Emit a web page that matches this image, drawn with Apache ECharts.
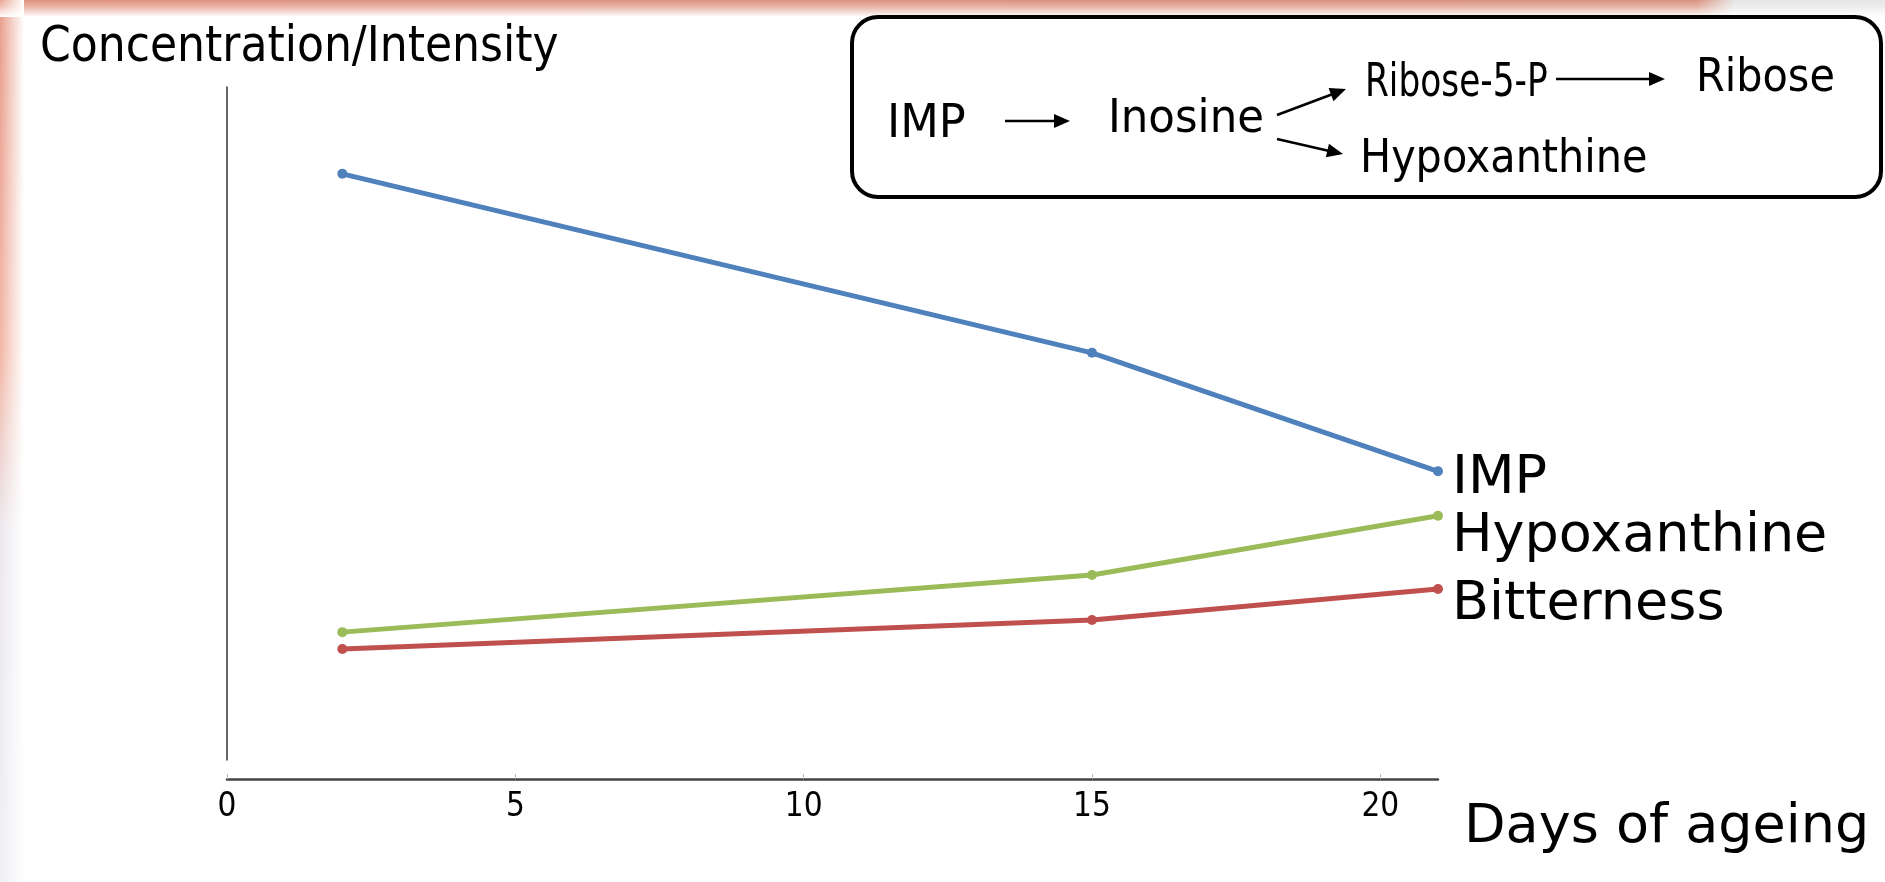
<!DOCTYPE html>
<html>
<head>
<meta charset="utf-8">
<script src="https://cdn.jsdelivr.net/npm/echarts@6/dist/echarts.min.js"></script>
<style>
html,body{margin:0;padding:0;background:#fff;}
#chart{width:1885px;height:882px;}
</style>
</head>
<body>
<div id="chart"></div>
<script>
// ---- data ----
const days = [2, 15, 21];
const imp = [87.1, 60.5, 42.9];
const hypoxanthine = [19.0, 27.5, 36.3];
const bitterness = [16.5, 20.8, 25.4];
const seriesNames = ['IMP', 'Hypoxanthine', 'Bitterness'];
const xTicks = [0, 5, 10, 15, 20];
const yTitle = 'Concentration/Intensity';
const xTitle = 'Days of ageing';
const pathway = ['IMP', 'Inosine', 'Ribose-5-P', 'Ribose', 'Hypoxanthine'];

const pair = arr => days.map((d, i) => [d, arr[i]]);
const colors = ['#4f81bd', '#9bbb59', '#c0504d'];
const labelOffsets = [[0, 8], [0, 21], [0, 16]];
const seriesData = [imp, hypoxanthine, bitterness];

const chart = echarts.init(document.getElementById('chart'));
const condFont = '"DejaVu Sans Condensed", "DejaVu Sans", sans-serif';

function arrow(x1, y1, x2, y2) {
  const ang = Math.atan2(y2 - y1, x2 - x1);
  const L = 16, W = 7;
  const bx = x2 - L * Math.cos(ang), by = y2 - L * Math.sin(ang);
  const px = -Math.sin(ang) * W, py = Math.cos(ang) * W;
  return [
    {type: 'line', shape: {x1: x1, y1: y1, x2: bx + 2 * Math.cos(ang), y2: by + 2 * Math.sin(ang)}, style: {stroke: '#000', lineWidth: 2.6}, z: 12},
    {type: 'polygon', shape: {points: [[x2, y2], [bx + px, by + py], [bx - px, by - py]]}, style: {fill: '#000'}, z: 12}
  ];
}
function boxText(t, x, y, sx) {
  return {type: 'text', x: x, y: y, z: 12, scaleX: sx || 1,
    style: {text: t, font: '46px ' + condFont, fill: '#000', textVerticalAlign: 'middle', textAlign: 'left'}};
}

const graphics = [
  // slide background edges
  {type: 'rect', shape: {x: 0, y: 0, width: 1885, height: 16}, z: 0,
    style: {fill: new echarts.graphic.LinearGradient(0, 0, 1, 0, [
      {offset: 0, color: 'rgba(222,140,120,1)'}, {offset: 0.9, color: 'rgba(215,140,120,1)'},
      {offset: 0.92, color: 'rgba(228,228,228,1)'}, {offset: 1, color: 'rgba(228,228,228,1)'}])}},
  {type: 'rect', shape: {x: 0, y: 0, width: 1885, height: 17}, z: 1,
    style: {fill: new echarts.graphic.LinearGradient(0, 0, 0, 1, [
      {offset: 0, color: 'rgba(255,255,255,0.05)'}, {offset: 0.4, color: 'rgba(255,255,255,0.35)'},
      {offset: 1, color: 'rgba(255,255,255,1)'}])}},
  {type: 'rect', shape: {x: 0, y: 0, width: 24, height: 882}, z: 0,
    style: {fill: new echarts.graphic.LinearGradient(0, 0, 0, 1, [
      {offset: 0, color: 'rgba(228,140,120,1)'}, {offset: 0.4, color: 'rgba(240,170,150,1)'},
      {offset: 0.6, color: 'rgba(232,228,234,1)'}, {offset: 1, color: 'rgba(236,236,242,1)'}])}},
  {type: 'rect', shape: {x: 0, y: 0, width: 24, height: 882}, z: 1,
    style: {fill: new echarts.graphic.LinearGradient(0, 0, 1, 0, [
      {offset: 0, color: 'rgba(255,255,255,0.15)'}, {offset: 0.4, color: 'rgba(255,255,255,0.5)'},
      {offset: 1, color: 'rgba(255,255,255,1)'}])}},
  // pathway box
  {type: 'rect', shape: {x: 852, y: 17, width: 1029, height: 180, r: 26}, z: 11,
    style: {fill: '#fff', stroke: '#000', lineWidth: 4}},
  boxText(pathway[0], 887, 125, 1.08),
  boxText(pathway[1], 1108, 120, 1.05),
  boxText(pathway[2], 1365, 84, 0.83),
  boxText(pathway[3], 1696, 79, 1.0),
  boxText(pathway[4], 1360, 160, 1.0)
].concat(arrow(1005, 121, 1070, 121), arrow(1277, 115, 1346, 89),
         arrow(1277, 139, 1343, 154), arrow(1556, 79, 1665, 79));

chart.setOption({
  animation: false,
  backgroundColor: '#fff',
  title: {
    text: yTitle, left: 40, top: 24, padding: 0,
    textStyle: {fontFamily: condFont, fontSize: 49, fontWeight: 'normal', color: '#000'}
  },
  grid: {left: 227, right: 447, top: 87, bottom: 122},
  xAxis: {
    type: 'value', min: 0, max: 21, interval: 5, offset: 19,
    name: xTitle, nameLocation: 'end', nameGap: 26,
    nameTextStyle: {fontFamily: '"DejaVu Sans", sans-serif', fontSize: 54, color: '#000',
      align: 'left', verticalAlign: 'top', padding: [22, 0, 0, 0]},
    axisLine: {onZero: false, lineStyle: {color: '#444', width: 2.5}},
    axisTick: {inside: true, length: 5, lineStyle: {color: '#bbb', width: 1}},
    axisLabel: {
      fontFamily: condFont, fontSize: 33, color: '#000', margin: 12, showMaxLabel: false,
      formatter: v => xTicks.indexOf(v) >= 0 ? String(v) : ''
    },
    splitLine: {show: false}
  },
  yAxis: {
    type: 'value', min: 0, max: 100,
    axisLine: {show: true, lineStyle: {color: '#333', width: 1.5}},
    axisTick: {show: false}, axisLabel: {show: false}, splitLine: {show: false}
  },
  series: seriesNames.map((n, i) => ({
    name: n, type: 'line', data: pair(seriesData[i]),
    symbol: 'circle', symbolSize: 10,
    lineStyle: {color: colors[i], width: 5},
    itemStyle: {color: colors[i]},
    endLabel: {show: true, formatter: n, distance: 14, offset: labelOffsets[i],
      fontFamily: '"DejaVu Sans", sans-serif', fontSize: 54, color: '#000'}
  })),
  graphic: graphics
});
</script>
</body>
</html>
